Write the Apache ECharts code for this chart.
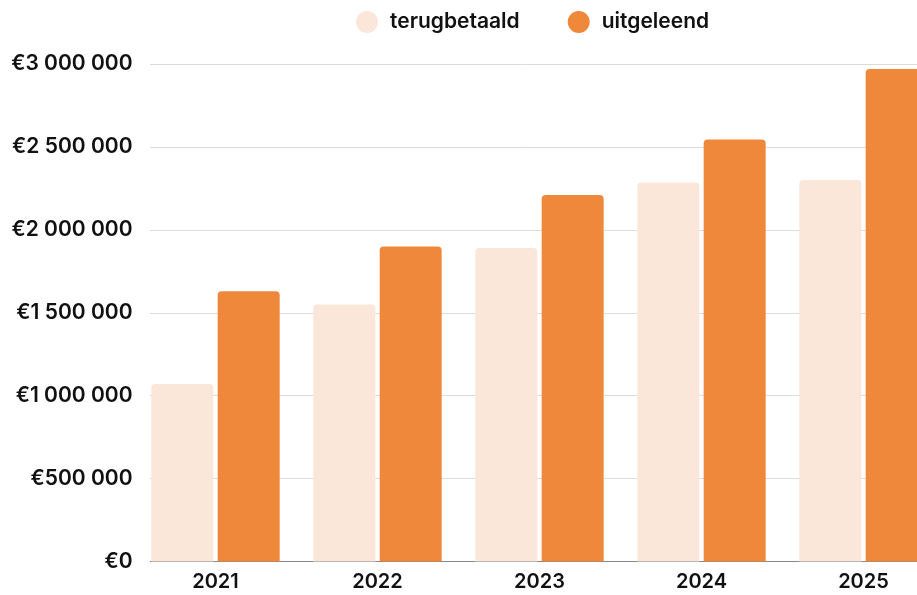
<!DOCTYPE html>
<html>
<head>
<meta charset="utf-8">
<script src="https://cdn.jsdelivr.net/npm/echarts@6/dist/echarts.min.js"></script>
<style>
html,body{margin:0;padding:0;background:#fff;}
#c{width:917px;height:595px;}
</style>
</head>
<body>
<div id="c"></div>
<script>
const categories = ['2021', '2022', '2023', '2024', '2025'];
const terugbetaald = [1070000, 1550000, 1890000, 2285000, 2300000];
const uitgeleend = [1630000, 1900000, 2210000, 2545000, 2970000];
const seriesNames = ['terugbetaald', 'uitgeleend'];
const yTicks = [0, 500000, 1000000, 1500000, 2000000, 2500000, 3000000];

const FONT = 'Inter';
function fmt(v) {
  return '€' + String(v).replace(/\B(?=(\d{3})+(?!\d))/g, ' ');
}

const chart = echarts.init(document.getElementById('c'), null, {renderer: 'canvas'});
chart.setOption({
  animation: false,
  backgroundColor: '#fff',
  textStyle: {fontFamily: FONT},
  legend: {
    top: 11,
    left: 356,
    padding: 0,
    itemWidth: 22,
    itemHeight: 22,
    itemGap: 48,
    icon: 'circle',
    textStyle: {fontFamily: FONT, fontWeight: 600, fontSize: 21, color: '#111', padding: [0, 0, 0, 7]},
    data: seriesNames
  },
  grid: {left: 134.5, top: 64, width: 810, height: 497.5, containLabel: false, outerBoundsMode: 'none'},
  xAxis: {
    type: 'category',
    data: categories,
    axisTick: {show: false},
    axisLine: {lineStyle: {color: '#888', width: 1}},
    axisLabel: {fontFamily: FONT, fontWeight: 600, fontSize: 20, color: '#111', margin: 10}
  },
  yAxis: {
    type: 'value',
    min: yTicks[0],
    max: yTicks[yTicks.length - 1],
    interval: 500000,
    axisLine: {show: false},
    axisTick: {show: false},
    splitLine: {lineStyle: {color: '#dcdcdc', width: 1}},
    axisLabel: {fontFamily: FONT, fontWeight: 600, fontSize: 21, color: '#111', margin: 2, formatter: fmt}
  },
  series: [
    {
      name: seriesNames[0],
      type: 'bar',
      data: terugbetaald,
      barWidth: 62,
      barGap: '7%',
      itemStyle: {color: '#FBE6DA', borderRadius: [4, 4, 0, 0]}
    },
    {
      name: seriesNames[1],
      type: 'bar',
      data: uitgeleend,
      barWidth: 62,
      itemStyle: {color: '#F0883C', borderRadius: [4, 4, 0, 0]}
    }
  ],
  graphic: [{
    type: 'rect',
    left: 134,
    top: 60,
    shape: {width: 16, height: 506},
    style: {fill: '#fff'},
    z: 100,
    silent: true
  }]
});
</script>
</body>
</html>
